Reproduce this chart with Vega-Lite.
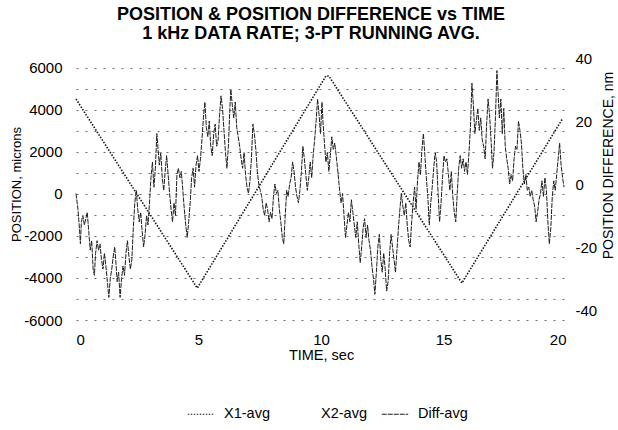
{
  "$schema": "https://vega.github.io/schema/vega-lite/v6.json",
  "width": 490,
  "height": 262,
  "autosize": {"type": "none"},
  "padding": {"left": 76, "top": 58, "right": 52, "bottom": 110},
  "background": "white",
  "config": {
    "font": "Liberation Sans",
    "view": {"stroke": null},
    "axis": {
      "domain": false,
      "ticks": false,
      "labelColor": "#000000",
      "titleColor": "#000000",
      "titleFontWeight": "normal",
      "labelFont": "Liberation Sans",
      "titleFont": "Liberation Sans",
      "labelFontSize": 15
    },
    "legend": {"labelFont": "Liberation Sans", "labelColor": "#000000"}
  },
  "title": {
    "text": ["POSITION & POSITION DIFFERENCE vs TIME", "1 kHz DATA RATE; 3-PT RUNNING AVG."],
    "fontSize": 18,
    "fontWeight": "bold",
    "lineHeight": 19,
    "anchor": "middle",
    "color": "#000000",
    "dx": -10,
    "offset": 8
  },
  "datasets": {
    "position": [
      {"t": 0, "microns": 4524, "series": "X1-avg"},
      {"t": 4.95, "microns": -4480, "series": "X1-avg"},
      {"t": 10.2, "microns": 5620, "series": "X1-avg"},
      {"t": 10.32, "microns": 5620, "series": "X1-avg"},
      {"t": 15.75, "microns": -4240, "series": "X1-avg"},
      {"t": 19.85, "microns": 3570, "series": "X1-avg"}
    ],
    "difference": [
      {"t": 0.00, "nm": -3, "series": "Diff-avg"}, {"t": 0.08, "nm": -8, "series": "Diff-avg"}, {"t": 0.14, "nm": -14, "series": "Diff-avg"}, {"t": 0.18, "nm": -19, "series": "Diff-avg"},
      {"t": 0.22, "nm": -12, "series": "Diff-avg"}, {"t": 0.28, "nm": -10, "series": "Diff-avg"}, {"t": 0.34, "nm": -13, "series": "Diff-avg"}, {"t": 0.40, "nm": -11, "series": "Diff-avg"},
      {"t": 0.46, "nm": -9, "series": "Diff-avg"}, {"t": 0.52, "nm": -15, "series": "Diff-avg"}, {"t": 0.58, "nm": -21, "series": "Diff-avg"}, {"t": 0.64, "nm": -18, "series": "Diff-avg"},
      {"t": 0.70, "nm": -27, "series": "Diff-avg"}, {"t": 0.75, "nm": -29, "series": "Diff-avg"}, {"t": 0.80, "nm": -22, "series": "Diff-avg"}, {"t": 0.86, "nm": -18, "series": "Diff-avg"},
      {"t": 0.92, "nm": -21, "series": "Diff-avg"}, {"t": 0.98, "nm": -19, "series": "Diff-avg"}, {"t": 1.04, "nm": -24, "series": "Diff-avg"}, {"t": 1.10, "nm": -27, "series": "Diff-avg"},
      {"t": 1.16, "nm": -22, "series": "Diff-avg"}, {"t": 1.22, "nm": -26, "series": "Diff-avg"}, {"t": 1.28, "nm": -31, "series": "Diff-avg"}, {"t": 1.34, "nm": -36, "series": "Diff-avg"},
      {"t": 1.40, "nm": -30, "series": "Diff-avg"}, {"t": 1.46, "nm": -27, "series": "Diff-avg"}, {"t": 1.52, "nm": -23, "series": "Diff-avg"}, {"t": 1.58, "nm": -20, "series": "Diff-avg"},
      {"t": 1.63, "nm": -25, "series": "Diff-avg"}, {"t": 1.68, "nm": -31, "series": "Diff-avg"}, {"t": 1.74, "nm": -28, "series": "Diff-avg"}, {"t": 1.80, "nm": -36, "series": "Diff-avg"},
      {"t": 1.86, "nm": -30, "series": "Diff-avg"}, {"t": 1.92, "nm": -26, "series": "Diff-avg"}, {"t": 1.98, "nm": -29, "series": "Diff-avg"}, {"t": 2.04, "nm": -22, "series": "Diff-avg"},
      {"t": 2.10, "nm": -18, "series": "Diff-avg"}, {"t": 2.16, "nm": -23, "series": "Diff-avg"}, {"t": 2.22, "nm": -27, "series": "Diff-avg"}, {"t": 2.28, "nm": -24, "series": "Diff-avg"},
      {"t": 2.34, "nm": -14, "series": "Diff-avg"}, {"t": 2.40, "nm": -6, "series": "Diff-avg"}, {"t": 2.46, "nm": -2, "series": "Diff-avg"}, {"t": 2.52, "nm": -8, "series": "Diff-avg"},
      {"t": 2.58, "nm": -12, "series": "Diff-avg"}, {"t": 2.64, "nm": -9, "series": "Diff-avg"}, {"t": 2.70, "nm": -15, "series": "Diff-avg"}, {"t": 2.76, "nm": -20, "series": "Diff-avg"},
      {"t": 2.82, "nm": -16, "series": "Diff-avg"}, {"t": 2.88, "nm": -10, "series": "Diff-avg"}, {"t": 2.94, "nm": -13, "series": "Diff-avg"}, {"t": 3.00, "nm": -6, "series": "Diff-avg"},
      {"t": 3.06, "nm": 2, "series": "Diff-avg"}, {"t": 3.12, "nm": 7, "series": "Diff-avg"}, {"t": 3.18, "nm": -1, "series": "Diff-avg"}, {"t": 3.24, "nm": 5, "series": "Diff-avg"},
      {"t": 3.30, "nm": 16, "series": "Diff-avg"}, {"t": 3.34, "nm": 12, "series": "Diff-avg"}, {"t": 3.40, "nm": 6, "series": "Diff-avg"}, {"t": 3.46, "nm": 10, "series": "Diff-avg"},
      {"t": 3.52, "nm": 2, "series": "Diff-avg"}, {"t": 3.58, "nm": -2, "series": "Diff-avg"}, {"t": 3.64, "nm": 4, "series": "Diff-avg"}, {"t": 3.70, "nm": 9, "series": "Diff-avg"},
      {"t": 3.76, "nm": 3, "series": "Diff-avg"}, {"t": 3.82, "nm": -3, "series": "Diff-avg"}, {"t": 3.88, "nm": -8, "series": "Diff-avg"}, {"t": 3.94, "nm": -12, "series": "Diff-avg"},
      {"t": 4.00, "nm": -6, "series": "Diff-avg"}, {"t": 4.06, "nm": -10, "series": "Diff-avg"}, {"t": 4.12, "nm": 3, "series": "Diff-avg"}, {"t": 4.18, "nm": 5, "series": "Diff-avg"},
      {"t": 4.24, "nm": 2, "series": "Diff-avg"}, {"t": 4.30, "nm": 4, "series": "Diff-avg"}, {"t": 4.36, "nm": -2, "series": "Diff-avg"}, {"t": 4.42, "nm": -8, "series": "Diff-avg"},
      {"t": 4.48, "nm": -13, "series": "Diff-avg"}, {"t": 4.54, "nm": -17, "series": "Diff-avg"}, {"t": 4.60, "nm": -12, "series": "Diff-avg"}, {"t": 4.66, "nm": -6, "series": "Diff-avg"},
      {"t": 4.72, "nm": 2, "series": "Diff-avg"}, {"t": 4.78, "nm": 5, "series": "Diff-avg"}, {"t": 4.84, "nm": -1, "series": "Diff-avg"}, {"t": 4.90, "nm": 6, "series": "Diff-avg"},
      {"t": 4.96, "nm": 9, "series": "Diff-avg"}, {"t": 5.02, "nm": 4, "series": "Diff-avg"}, {"t": 5.08, "nm": 8, "series": "Diff-avg"}, {"t": 5.14, "nm": 14, "series": "Diff-avg"},
      {"t": 5.20, "nm": 21, "series": "Diff-avg"}, {"t": 5.26, "nm": 26, "series": "Diff-avg"}, {"t": 5.32, "nm": 18, "series": "Diff-avg"}, {"t": 5.38, "nm": 15, "series": "Diff-avg"},
      {"t": 5.44, "nm": 20, "series": "Diff-avg"}, {"t": 5.50, "nm": 12, "series": "Diff-avg"}, {"t": 5.56, "nm": 9, "series": "Diff-avg"}, {"t": 5.62, "nm": 16, "series": "Diff-avg"},
      {"t": 5.68, "nm": 19, "series": "Diff-avg"}, {"t": 5.74, "nm": 12, "series": "Diff-avg"}, {"t": 5.80, "nm": 14, "series": "Diff-avg"}, {"t": 5.86, "nm": 22, "series": "Diff-avg"},
      {"t": 5.92, "nm": 28, "series": "Diff-avg"}, {"t": 5.98, "nm": 24, "series": "Diff-avg"}, {"t": 6.04, "nm": 17, "series": "Diff-avg"}, {"t": 6.10, "nm": 10, "series": "Diff-avg"},
      {"t": 6.16, "nm": 5, "series": "Diff-avg"}, {"t": 6.22, "nm": 12, "series": "Diff-avg"}, {"t": 6.28, "nm": 24, "series": "Diff-avg"}, {"t": 6.32, "nm": 30, "series": "Diff-avg"},
      {"t": 6.38, "nm": 25, "series": "Diff-avg"}, {"t": 6.44, "nm": 21, "series": "Diff-avg"}, {"t": 6.50, "nm": 26, "series": "Diff-avg"}, {"t": 6.56, "nm": 18, "series": "Diff-avg"},
      {"t": 6.62, "nm": 15, "series": "Diff-avg"}, {"t": 6.68, "nm": 12, "series": "Diff-avg"}, {"t": 6.74, "nm": 8, "series": "Diff-avg"}, {"t": 6.80, "nm": 5, "series": "Diff-avg"},
      {"t": 6.86, "nm": 10, "series": "Diff-avg"}, {"t": 6.92, "nm": 3, "series": "Diff-avg"}, {"t": 6.98, "nm": -1, "series": "Diff-avg"}, {"t": 7.04, "nm": -3, "series": "Diff-avg"},
      {"t": 7.10, "nm": 1, "series": "Diff-avg"}, {"t": 7.16, "nm": 8, "series": "Diff-avg"}, {"t": 7.22, "nm": 19, "series": "Diff-avg"}, {"t": 7.28, "nm": 16, "series": "Diff-avg"},
      {"t": 7.34, "nm": 11, "series": "Diff-avg"}, {"t": 7.40, "nm": 4, "series": "Diff-avg"}, {"t": 7.46, "nm": 0, "series": "Diff-avg"}, {"t": 7.52, "nm": -2, "series": "Diff-avg"},
      {"t": 7.58, "nm": -4, "series": "Diff-avg"}, {"t": 7.64, "nm": -8, "series": "Diff-avg"}, {"t": 7.70, "nm": -10, "series": "Diff-avg"}, {"t": 7.76, "nm": -6, "series": "Diff-avg"},
      {"t": 7.82, "nm": -8, "series": "Diff-avg"}, {"t": 7.88, "nm": -12, "series": "Diff-avg"}, {"t": 7.94, "nm": -9, "series": "Diff-avg"}, {"t": 8.00, "nm": -11, "series": "Diff-avg"},
      {"t": 8.06, "nm": -4, "series": "Diff-avg"}, {"t": 8.12, "nm": 0, "series": "Diff-avg"}, {"t": 8.18, "nm": -3, "series": "Diff-avg"}, {"t": 8.24, "nm": -2, "series": "Diff-avg"},
      {"t": 8.30, "nm": -8, "series": "Diff-avg"}, {"t": 8.36, "nm": -12, "series": "Diff-avg"}, {"t": 8.42, "nm": -17, "series": "Diff-avg"}, {"t": 8.48, "nm": -19, "series": "Diff-avg"},
      {"t": 8.54, "nm": -10, "series": "Diff-avg"}, {"t": 8.60, "nm": -2, "series": "Diff-avg"}, {"t": 8.66, "nm": -4, "series": "Diff-avg"}, {"t": 8.72, "nm": 0, "series": "Diff-avg"},
      {"t": 8.78, "nm": 2, "series": "Diff-avg"}, {"t": 8.84, "nm": 7, "series": "Diff-avg"}, {"t": 8.90, "nm": 4, "series": "Diff-avg"}, {"t": 8.96, "nm": -1, "series": "Diff-avg"},
      {"t": 9.02, "nm": -4, "series": "Diff-avg"}, {"t": 9.08, "nm": -6, "series": "Diff-avg"}, {"t": 9.14, "nm": -2, "series": "Diff-avg"}, {"t": 9.20, "nm": 4, "series": "Diff-avg"},
      {"t": 9.26, "nm": 12, "series": "Diff-avg"}, {"t": 9.32, "nm": 8, "series": "Diff-avg"}, {"t": 9.38, "nm": 3, "series": "Diff-avg"}, {"t": 9.44, "nm": -2, "series": "Diff-avg"},
      {"t": 9.50, "nm": 2, "series": "Diff-avg"}, {"t": 9.56, "nm": 7, "series": "Diff-avg"}, {"t": 9.62, "nm": 2, "series": "Diff-avg"}, {"t": 9.68, "nm": 9, "series": "Diff-avg"},
      {"t": 9.74, "nm": 14, "series": "Diff-avg"}, {"t": 9.80, "nm": 20, "series": "Diff-avg"}, {"t": 9.86, "nm": 27, "series": "Diff-avg"}, {"t": 9.92, "nm": 22, "series": "Diff-avg"},
      {"t": 9.98, "nm": 16, "series": "Diff-avg"}, {"t": 10.04, "nm": 26, "series": "Diff-avg"}, {"t": 10.08, "nm": 20, "series": "Diff-avg"}, {"t": 10.14, "nm": 13, "series": "Diff-avg"},
      {"t": 10.20, "nm": 7, "series": "Diff-avg"}, {"t": 10.26, "nm": 10, "series": "Diff-avg"}, {"t": 10.32, "nm": 4, "series": "Diff-avg"}, {"t": 10.38, "nm": 9, "series": "Diff-avg"},
      {"t": 10.44, "nm": 15, "series": "Diff-avg"}, {"t": 10.50, "nm": 11, "series": "Diff-avg"}, {"t": 10.56, "nm": 13, "series": "Diff-avg"}, {"t": 10.62, "nm": 9, "series": "Diff-avg"},
      {"t": 10.70, "nm": 3, "series": "Diff-avg"}, {"t": 10.76, "nm": -2, "series": "Diff-avg"}, {"t": 10.82, "nm": -6, "series": "Diff-avg"}, {"t": 10.88, "nm": -3, "series": "Diff-avg"},
      {"t": 10.94, "nm": -10, "series": "Diff-avg"}, {"t": 11.00, "nm": -17, "series": "Diff-avg"}, {"t": 11.06, "nm": -13, "series": "Diff-avg"}, {"t": 11.12, "nm": -9, "series": "Diff-avg"},
      {"t": 11.18, "nm": -12, "series": "Diff-avg"}, {"t": 11.24, "nm": -5, "series": "Diff-avg"}, {"t": 11.30, "nm": -9, "series": "Diff-avg"}, {"t": 11.36, "nm": -13, "series": "Diff-avg"},
      {"t": 11.42, "nm": -17, "series": "Diff-avg"}, {"t": 11.48, "nm": -12, "series": "Diff-avg"}, {"t": 11.54, "nm": -19, "series": "Diff-avg"}, {"t": 11.60, "nm": -25, "series": "Diff-avg"},
      {"t": 11.66, "nm": -20, "series": "Diff-avg"}, {"t": 11.72, "nm": -14, "series": "Diff-avg"}, {"t": 11.78, "nm": -11, "series": "Diff-avg"}, {"t": 11.84, "nm": -17, "series": "Diff-avg"},
      {"t": 11.90, "nm": -13, "series": "Diff-avg"}, {"t": 11.96, "nm": -18, "series": "Diff-avg"}, {"t": 12.02, "nm": -21, "series": "Diff-avg"}, {"t": 12.08, "nm": -26, "series": "Diff-avg"},
      {"t": 12.14, "nm": -30, "series": "Diff-avg"}, {"t": 12.20, "nm": -35, "series": "Diff-avg"}, {"t": 12.26, "nm": -28, "series": "Diff-avg"}, {"t": 12.32, "nm": -20, "series": "Diff-avg"},
      {"t": 12.38, "nm": -16, "series": "Diff-avg"}, {"t": 12.44, "nm": -24, "series": "Diff-avg"}, {"t": 12.50, "nm": -28, "series": "Diff-avg"}, {"t": 12.56, "nm": -22, "series": "Diff-avg"},
      {"t": 12.62, "nm": -27, "series": "Diff-avg"}, {"t": 12.68, "nm": -34, "series": "Diff-avg"}, {"t": 12.74, "nm": -31, "series": "Diff-avg"}, {"t": 12.80, "nm": -22, "series": "Diff-avg"},
      {"t": 12.86, "nm": -16, "series": "Diff-avg"}, {"t": 12.92, "nm": -20, "series": "Diff-avg"}, {"t": 12.98, "nm": -24, "series": "Diff-avg"}, {"t": 13.04, "nm": -28, "series": "Diff-avg"},
      {"t": 13.10, "nm": -21, "series": "Diff-avg"}, {"t": 13.16, "nm": -14, "series": "Diff-avg"}, {"t": 13.22, "nm": -8, "series": "Diff-avg"}, {"t": 13.28, "nm": -3, "series": "Diff-avg"},
      {"t": 13.34, "nm": -7, "series": "Diff-avg"}, {"t": 13.40, "nm": -10, "series": "Diff-avg"}, {"t": 13.46, "nm": -6, "series": "Diff-avg"}, {"t": 13.52, "nm": -13, "series": "Diff-avg"},
      {"t": 13.58, "nm": -18, "series": "Diff-avg"}, {"t": 13.64, "nm": -20, "series": "Diff-avg"}, {"t": 13.70, "nm": -12, "series": "Diff-avg"}, {"t": 13.76, "nm": -6, "series": "Diff-avg"},
      {"t": 13.82, "nm": -1, "series": "Diff-avg"}, {"t": 13.88, "nm": -8, "series": "Diff-avg"}, {"t": 13.94, "nm": 1, "series": "Diff-avg"}, {"t": 14.00, "nm": 7, "series": "Diff-avg"},
      {"t": 14.06, "nm": 3, "series": "Diff-avg"}, {"t": 14.12, "nm": 11, "series": "Diff-avg"}, {"t": 14.18, "nm": 16, "series": "Diff-avg"}, {"t": 14.24, "nm": 9, "series": "Diff-avg"},
      {"t": 14.30, "nm": 2, "series": "Diff-avg"}, {"t": 14.36, "nm": -4, "series": "Diff-avg"}, {"t": 14.42, "nm": -13, "series": "Diff-avg"}, {"t": 14.48, "nm": -6, "series": "Diff-avg"},
      {"t": 14.54, "nm": -1, "series": "Diff-avg"}, {"t": 14.60, "nm": 5, "series": "Diff-avg"}, {"t": 14.66, "nm": 10, "series": "Diff-avg"}, {"t": 14.72, "nm": 7, "series": "Diff-avg"},
      {"t": 14.78, "nm": -3, "series": "Diff-avg"}, {"t": 14.84, "nm": -12, "series": "Diff-avg"}, {"t": 14.90, "nm": -6, "series": "Diff-avg"}, {"t": 14.96, "nm": 2, "series": "Diff-avg"},
      {"t": 15.02, "nm": 9, "series": "Diff-avg"}, {"t": 15.08, "nm": 7, "series": "Diff-avg"}, {"t": 15.14, "nm": 8, "series": "Diff-avg"}, {"t": 15.20, "nm": 3, "series": "Diff-avg"},
      {"t": 15.26, "nm": -2, "series": "Diff-avg"}, {"t": 15.32, "nm": 4, "series": "Diff-avg"}, {"t": 15.38, "nm": -4, "series": "Diff-avg"}, {"t": 15.44, "nm": -9, "series": "Diff-avg"},
      {"t": 15.50, "nm": -12, "series": "Diff-avg"}, {"t": 15.56, "nm": -3, "series": "Diff-avg"}, {"t": 15.62, "nm": 5, "series": "Diff-avg"}, {"t": 15.68, "nm": 9, "series": "Diff-avg"},
      {"t": 15.74, "nm": 5, "series": "Diff-avg"}, {"t": 15.80, "nm": 8, "series": "Diff-avg"}, {"t": 15.86, "nm": 4, "series": "Diff-avg"}, {"t": 15.92, "nm": 7, "series": "Diff-avg"},
      {"t": 15.98, "nm": 3, "series": "Diff-avg"}, {"t": 16.04, "nm": 10, "series": "Diff-avg"}, {"t": 16.10, "nm": 18, "series": "Diff-avg"}, {"t": 16.16, "nm": 32, "series": "Diff-avg"},
      {"t": 16.22, "nm": 25, "series": "Diff-avg"}, {"t": 16.28, "nm": 16, "series": "Diff-avg"}, {"t": 16.34, "nm": 20, "series": "Diff-avg"}, {"t": 16.40, "nm": 24, "series": "Diff-avg"},
      {"t": 16.46, "nm": 17, "series": "Diff-avg"}, {"t": 16.52, "nm": 21, "series": "Diff-avg"}, {"t": 16.58, "nm": 14, "series": "Diff-avg"}, {"t": 16.64, "nm": 12, "series": "Diff-avg"},
      {"t": 16.70, "nm": 8, "series": "Diff-avg"}, {"t": 16.76, "nm": 19, "series": "Diff-avg"}, {"t": 16.82, "nm": 27, "series": "Diff-avg"}, {"t": 16.88, "nm": 22, "series": "Diff-avg"},
      {"t": 16.94, "nm": 14, "series": "Diff-avg"}, {"t": 17.00, "nm": 5, "series": "Diff-avg"}, {"t": 17.06, "nm": 10, "series": "Diff-avg"}, {"t": 17.12, "nm": 21, "series": "Diff-avg"},
      {"t": 17.18, "nm": 36, "series": "Diff-avg"}, {"t": 17.22, "nm": 30, "series": "Diff-avg"}, {"t": 17.28, "nm": 21, "series": "Diff-avg"}, {"t": 17.34, "nm": 27, "series": "Diff-avg"},
      {"t": 17.40, "nm": 16, "series": "Diff-avg"}, {"t": 17.46, "nm": 24, "series": "Diff-avg"}, {"t": 17.52, "nm": 12, "series": "Diff-avg"}, {"t": 17.58, "nm": 8, "series": "Diff-avg"},
      {"t": 17.64, "nm": 5, "series": "Diff-avg"}, {"t": 17.70, "nm": 0, "series": "Diff-avg"}, {"t": 17.76, "nm": 3, "series": "Diff-avg"}, {"t": 17.82, "nm": 1, "series": "Diff-avg"},
      {"t": 17.88, "nm": 8, "series": "Diff-avg"}, {"t": 17.94, "nm": 12, "series": "Diff-avg"}, {"t": 18.00, "nm": 11, "series": "Diff-avg"}, {"t": 18.06, "nm": 20, "series": "Diff-avg"},
      {"t": 18.12, "nm": 17, "series": "Diff-avg"}, {"t": 18.18, "nm": 13, "series": "Diff-avg"}, {"t": 18.24, "nm": 5, "series": "Diff-avg"}, {"t": 18.30, "nm": 0, "series": "Diff-avg"},
      {"t": 18.36, "nm": 3, "series": "Diff-avg"}, {"t": 18.42, "nm": -2, "series": "Diff-avg"}, {"t": 18.48, "nm": -1, "series": "Diff-avg"}, {"t": 18.54, "nm": -4, "series": "Diff-avg"},
      {"t": 18.60, "nm": -2, "series": "Diff-avg"}, {"t": 18.66, "nm": -5, "series": "Diff-avg"}, {"t": 18.72, "nm": -7, "series": "Diff-avg"}, {"t": 18.78, "nm": -12, "series": "Diff-avg"},
      {"t": 18.84, "nm": -9, "series": "Diff-avg"}, {"t": 18.90, "nm": -5, "series": "Diff-avg"}, {"t": 18.96, "nm": -3, "series": "Diff-avg"}, {"t": 19.02, "nm": 1, "series": "Diff-avg"},
      {"t": 19.08, "nm": -4, "series": "Diff-avg"}, {"t": 19.14, "nm": 2, "series": "Diff-avg"}, {"t": 19.20, "nm": -2, "series": "Diff-avg"}, {"t": 19.26, "nm": -12, "series": "Diff-avg"},
      {"t": 19.32, "nm": -19, "series": "Diff-avg"}, {"t": 19.38, "nm": -14, "series": "Diff-avg"}, {"t": 19.44, "nm": -4, "series": "Diff-avg"}, {"t": 19.50, "nm": 1, "series": "Diff-avg"},
      {"t": 19.56, "nm": -2, "series": "Diff-avg"}, {"t": 19.62, "nm": 3, "series": "Diff-avg"}, {"t": 19.68, "nm": 8, "series": "Diff-avg"}, {"t": 19.74, "nm": 13, "series": "Diff-avg"},
      {"t": 19.80, "nm": 6, "series": "Diff-avg"}, {"t": 19.86, "nm": 2, "series": "Diff-avg"}, {"t": 19.92, "nm": -1, "series": "Diff-avg"}
    ]
  },
  "layer": [
    {
      "data": {"name": "position"},
      "mark": {"type": "line", "strokeWidth": 1.6},
      "encoding": {
        "x": {
          "field": "t", "type": "quantitative",
          "scale": {"domain": [0, 20], "nice": false},
          "axis": {
            "values": [0, 5, 10, 15, 20],
            "grid": false,
            "labelExpr": "'' + datum.value",
            "labelPadding": 12,
            "title": "TIME, sec",
            "titleFontSize": 14.5,
            "titlePadding": 1
          }
        },
        "y": {
          "field": "microns", "type": "quantitative",
          "scale": {"domain": [-6000, 6476], "nice": false, "zero": false},
          "axis": {
            "orient": "left",
            "values": [-6000, -5000, -4000, -3000, -2000, -1000, 0, 1000, 2000, 3000, 4000, 5000, 6000],
            "labelExpr": "datum.value % 2000 === 0 ? '' + datum.value : ''",
            "labelPadding": 14,
            "grid": true,
            "gridColor": "#6e6e6e",
            "gridDash": [2, 7],
            "gridWidth": 1,
            "title": "POSITION, microns",
            "titleFontSize": 13,
            "titleX": -60,
            "titleY": 126,
            "titleBaseline": "middle"
          }
        },
        "color": {
          "field": "series", "type": "nominal",
          "scale": {"domain": ["X1-avg", "X2-avg", "Diff-avg"], "range": ["#151515", "#ffffff", "#1e1e1e"]},
          "legend": {
            "orient": "none", "legendX": 111, "legendY": 342, "direction": "horizontal", "title": null,
            "symbolType": "stroke", "symbolSize": 700, "symbolStrokeWidth": 1.2,
            "labelFontSize": 14.5, "labelOffset": 9, "columnPadding": 12, "padding": 0
          }
        },
        "strokeDash": {
          "field": "series", "type": "nominal",
          "scale": {"domain": ["X1-avg", "X2-avg", "Diff-avg"], "range": [[1.5, 1.5], [1, 0], [5, 1]]},
          "legend": {
            "orient": "none", "legendX": 111, "legendY": 342, "direction": "horizontal", "title": null,
            "symbolType": "stroke", "symbolSize": 700, "symbolStrokeWidth": 1.2,
            "labelFontSize": 14.5, "labelOffset": 9, "columnPadding": 12, "padding": 0
          }
        }
      }
    },
    {
      "data": {"name": "difference"},
      "mark": {"type": "line", "strokeWidth": 1},
      "encoding": {
        "x": {"field": "t", "type": "quantitative"},
        "y": {
          "field": "nm", "type": "quantitative",
          "scale": {"domain": [-43.17, 40], "nice": false, "zero": false},
          "axis": {
            "orient": "right",
            "values": [-40, -20, 0, 20, 40],
            "labelExpr": "'' + datum.value",
            "labelPadding": 9,
            "grid": false,
            "title": "POSITION DIFFERENCE, nm",
            "titleFontSize": 14,
            "titleAngle": 270,
            "titleX": 42,
            "titleY": 107,
            "titleBaseline": "middle"
          }
        },
        "color": {"field": "series", "type": "nominal"},
        "strokeDash": {"field": "series", "type": "nominal"}
      }
    }
  ],
  "resolve": {"scale": {"y": "independent"}}
}
